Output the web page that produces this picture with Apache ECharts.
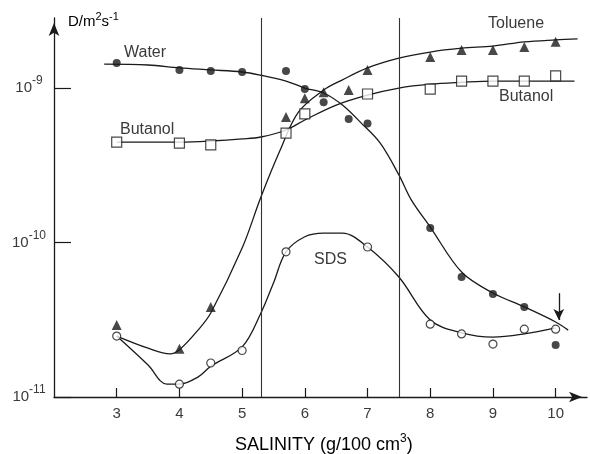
<!DOCTYPE html>
<html><head><meta charset="utf-8">
<script src="https://cdn.jsdelivr.net/npm/echarts@6/dist/echarts.min.js"></script>
<style>html,body{margin:0;padding:0;background:#fff}#c{width:590px;height:454px}</style>
</head><body><div id="c"></div>
<script>
// ---- axes ----
const salinityTicks = [3, 4, 5, 6, 7, 8, 9, 10];
const dTicks = [1e-11, 1e-10, 1e-9];
const phaseBoundaries = [5.3, 7.5];

// ---- measured points ----
const waterX = [3, 4, 4.5, 5, 5.7, 6, 6.3, 6.7, 7, 8, 8.5, 9, 9.5, 10];
const waterD = [1.45e-9, 1.31e-9, 1.29e-9, 1.27e-9, 1.29e-9, 0.985e-9, 8.1e-10, 6.3e-10, 5.9e-10, 1.24e-10, 5.98e-11, 4.65e-11, 3.83e-11, 2.17e-11];

const tolueneX = [3, 4, 4.5, 5.7, 6, 6.3, 6.7, 7, 8, 8.5, 9, 9.5, 10];
const tolueneD = [2.92e-11, 2.05e-11, 3.83e-11, 6.5e-10, 8.6e-10, 9.4e-10, 9.7e-10, 1.31e-9, 1.59e-9, 1.76e-9, 1.76e-9, 1.84e-9, 1.99e-9];

const butanolX = [3, 4, 4.5, 5.7, 6, 7, 8, 8.5, 9, 9.5, 10];
const butanolD = [4.47e-10, 4.4e-10, 4.28e-10, 5.1e-10, 6.8e-10, 9.15e-10, 9.85e-10, 1.11e-9, 1.11e-9, 1.11e-9, 1.2e-9];

const sdsX = [3, 4, 4.5, 5, 5.7, 7, 8, 8.5, 9, 9.5, 10];
const sdsD = [2.48e-11, 1.21e-11, 1.66e-11, 2.0e-11, 8.7e-11, 9.35e-11, 2.96e-11, 2.56e-11, 2.2e-11, 2.75e-11, 2.75e-11];

// ---- hand-drawn fitted curves ----
const waterCurveX = [2.8, 3.5, 4, 4.5, 5, 5.3, 5.7, 6, 6.3, 6.6, 6.9, 7.2, 7.5, 7.7, 8, 8.5, 9, 9.5, 10, 10.2];
const waterCurveD = [1.43e-9, 1.41e-9, 1.35e-9, 1.31e-9, 1.27e-9, 1.21e-9, 1.11e-9, 1.0e-9, 9.29e-10, 7.76e-10, 5.93e-10, 4.41e-10, 2.74e-10, 1.88e-10, 1.26e-10, 6.44e-11, 4.71e-11, 3.83e-11, 3.06e-11, 2.71e-11];

const tolueneCurveX = [3, 3.5, 3.85, 4, 4.3, 4.5, 5, 5.3, 5.6, 5.9, 6.3, 6.6, 7, 7.5, 8, 8.5, 9, 9.5, 10, 10.35];
const tolueneCurveD = [2.48e-11, 2.07e-11, 1.9e-11, 2.02e-11, 2.72e-11, 3.5e-11, 9.2e-11, 1.97e-10, 3.91e-10, 7.0e-10, 9.7e-10, 1.13e-9, 1.35e-9, 1.56e-9, 1.71e-9, 1.81e-9, 1.87e-9, 1.99e-9, 2.05e-9, 2.08e-9];

const butanolCurveX = [3, 4, 4.5, 5, 5.3, 5.7, 6, 6.5, 7, 7.5, 8, 8.5, 9, 10, 10.3];
const butanolCurveD = [4.47e-10, 4.47e-10, 4.54e-10, 4.68e-10, 4.82e-10, 5.35e-10, 6.21e-10, 7.76e-10, 9.0e-10, 1.0e-9, 1.06e-9, 1.09e-9, 1.11e-9, 1.11e-9, 1.11e-9];

const sdsCurveX = [3, 3.5, 3.8, 4, 4.3, 4.5, 5, 5.3, 5.5, 5.7, 6, 6.3, 6.6, 7, 7.5, 8, 8.5, 9, 9.5, 10];
const sdsCurveD = [2.48e-11, 1.61e-11, 1.21e-11, 1.21e-11, 1.35e-11, 1.58e-11, 2.11e-11, 3.5e-11, 5.47e-11, 8.7e-11, 1.09e-10, 1.15e-10, 1.15e-10, 9.35e-11, 5.98e-11, 3.15e-11, 2.6e-11, 2.44e-11, 2.56e-11, 2.8e-11];

// arrow marking salinity 10
const arrowX = [10.05, 10.05];
const arrowD = [4.7e-11, 3.15e-11];

// ---- build ----
const FONT = '"Liberation Sans", Arial, Helvetica, sans-serif';
const INK = '#1a1a1a';
const TXT = '#3a3a3a';
const zip = (xs, ys) => xs.map((x, i) => [x, ys[i]]);

function curve(name, xs, ys, extra) {
  return Object.assign({
    name: name, type: 'line', data: zip(xs, ys), smooth: 0.35,
    showSymbol: false, silent: true, z: 2,
    lineStyle: { color: INK, width: 1.3 }
  }, extra || {});
}
function pts(name, xs, ys, symbol, size, fill) {
  return {
    name: name, type: 'scatter', data: zip(xs, ys), symbol: symbol, symbolSize: size,
    silent: true, z: 3,
    itemStyle: { color: fill, borderColor: INK, borderWidth: fill === '#fff' ? 1.2 : 0 }
  };
}
const supRich = {
  a: { fontSize: 15, color: TXT, fontFamily: FONT, lineHeight: 26 },
  s: { fontSize: 12, color: TXT, fontFamily: FONT, lineHeight: 12, verticalAlign: 'top' }
};
function yLab(v) {
  const e = v < 0 ? Math.round(v) : Math.round(Math.log10(v));
  return '{a|10}{s|' + e + '}';
}

const chart = echarts.init(document.getElementById('c'), null, { renderer: 'canvas' });
chart.setOption({
  animation: false,
  backgroundColor: '#fff',
  grid: { left: 54, right: 3, top: 18, bottom: 57, containLabel: false, outerBoundsMode: 'none' },
  xAxis: {
    type: 'value', min: 2, max: 10.5,
    axisLine: { show: true, lineStyle: { color: INK, width: 1.3 }, symbol: ['none', 'arrow'], symbolSize: [8, 13], symbolOffset: [0, -5] },
    axisTick: { show: true, inside: true, length: 9, lineStyle: { color: INK, width: 1.2 }, customValues: salinityTicks },
    axisLabel: { customValues: salinityTicks, fontSize: 15, color: TXT, fontFamily: FONT, margin: 9 },
    splitLine: { show: false }
  },
  yAxis: {
    type: 'log', logBase: 10, min: 1e-11, max: 2.84e-9,
    axisLine: { show: true, lineStyle: { color: INK, width: 1.3 }, symbol: ['none', 'arrow'], symbolSize: [8, 13], symbolOffset: [0, -5] },
    axisTick: { show: true, inside: true, length: 17, lineStyle: { color: INK, width: 1.2 },
      customValues: dTicks.concat(dTicks.map(v => Math.log10(v))) },
    axisLabel: { customValues: dTicks.concat(dTicks.map(v => Math.log10(v))), formatter: yLab, rich: supRich,
      align: 'center', margin: 25 },
    splitLine: { show: false }, minorTick: { show: false }
  },
  series: [
    curve('Water curve', waterCurveX, waterCurveD, {
      markLine: {
        silent: true, symbol: 'none', label: { show: false },
        lineStyle: { color: '#333', width: 1.1, type: 'solid' },
        data: phaseBoundaries.map(v => ({ xAxis: v }))
      }
    }),
    curve('Toluene curve', tolueneCurveX, tolueneCurveD),
    curve('Butanol curve', butanolCurveX, butanolCurveD),
    curve('SDS curve', sdsCurveX, sdsCurveD, {
      markLine: {
        silent: true, symbol: ['none', 'arrow'], symbolSize: [8, 11], label: { show: false },
        lineStyle: { color: INK, width: 1.3, type: 'solid' },
        data: [[{ coord: [arrowX[0], arrowD[0]] }, { coord: [arrowX[1], arrowD[1]] }]]
      }
    }),
    pts('Water', waterX, waterD, 'circle', 8, INK),
    pts('Toluene', tolueneX, tolueneD, 'triangle', 10, INK),
    pts('Butanol', butanolX, butanolD, 'rect', 10, '#fff'),
    pts('SDS', sdsX, sdsD, 'circle', 8, '#fff')
  ],
  graphic: [
    { type: 'text', left: 68, top: 11, silent: true,
      style: { text: '{a|D/m}{s|2}{a|s}{s|-1}', rich: {
        a: { fontSize: 15, color: TXT, fontFamily: FONT, lineHeight: 22 },
        s: { fontSize: 11, color: TXT, fontFamily: FONT, lineHeight: 11, verticalAlign: 'top' } } } },
    { type: 'text', left: 124, top: 45, silent: true, style: { text: 'Water', fontSize: 16, fill: TXT, fontFamily: FONT } },
    { type: 'text', left: 120, top: 122, silent: true, style: { text: 'Butanol', fontSize: 16, fill: TXT, fontFamily: FONT } },
    { type: 'text', left: 488, top: 16, silent: true, style: { text: 'Toluene', fontSize: 16, fill: TXT, fontFamily: FONT } },
    { type: 'text', left: 499, top: 89, silent: true, style: { text: 'Butanol', fontSize: 16, fill: TXT, fontFamily: FONT } },
    { type: 'text', left: 314, top: 252, silent: true, style: { text: 'SDS', fontSize: 16, fill: TXT, fontFamily: FONT } },
    { type: 'text', left: 235, top: 433, silent: true,
      style: { text: '{a|SALINITY (g/100 cm}{s|3}{a|)}', rich: {
        a: { fontSize: 18, color: TXT, fontFamily: FONT, lineHeight: 24 },
        s: { fontSize: 12, color: TXT, fontFamily: FONT, lineHeight: 12, verticalAlign: 'top' } } } }
  ]
});
</script></body></html>
